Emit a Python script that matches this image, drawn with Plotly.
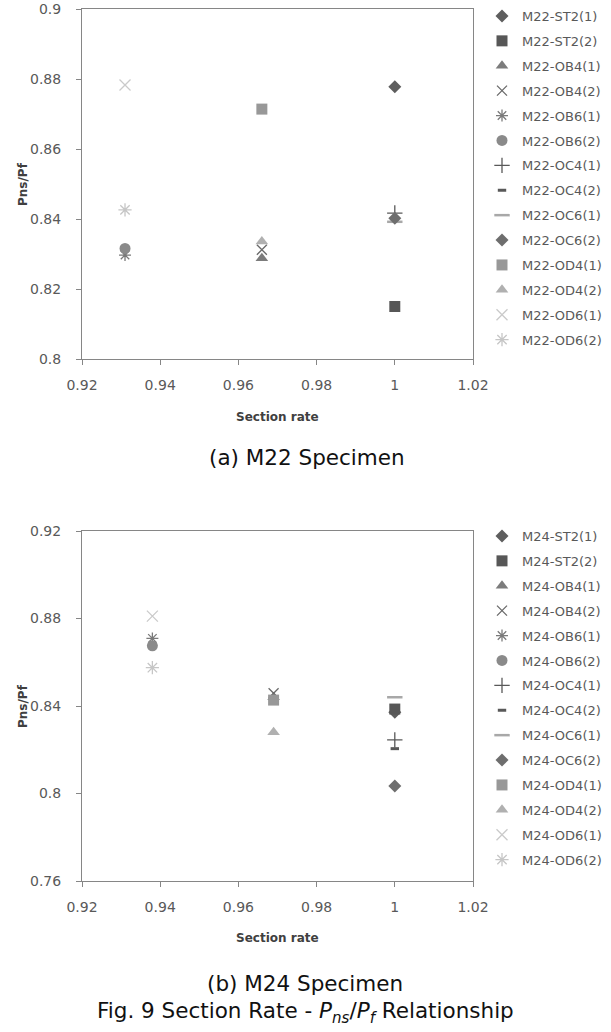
import plotly.graph_objects as go

W, H = 611, 1032

# ---------------- data ----------------
series_ids = ["ST2(1)", "ST2(2)", "OB4(1)", "OB4(2)", "OB6(1)", "OB6(2)", "OC4(1)",
              "OC4(2)", "OC6(1)", "OC6(2)", "OD4(1)", "OD4(2)", "OD6(1)", "OD6(2)"]

m22_x = [1.0, 1.0, 0.966, 0.966, 0.931, 0.931, 1.0, 1.0, 1.0, 1.0, 0.966, 0.966, 0.931, 0.931]
m22_y = [0.8778, 0.8150, 0.8288, 0.8312, 0.8297, 0.8316, 0.8417, 0.8400, 0.8392, 0.8402,
         0.8714, 0.8336, 0.8783, 0.8426]

m24_x = [1.0, 1.0, 0.969, 0.969, 0.938, 0.938, 1.0, 1.0, 1.0, 1.0, 0.969, 0.969, 0.938, 0.938]
m24_y = [0.8372, 0.8386, 0.8440, 0.8458, 0.8709, 0.8675, 0.8245, 0.8205, 0.8440, 0.8034,
         0.8427, 0.8280, 0.8811, 0.8575]

x_ticks = [0.92, 0.94, 0.96, 0.98, 1.0, 1.02]
m22_y_ticks = [0.8, 0.82, 0.84, 0.86, 0.88, 0.9]
m24_y_ticks = [0.76, 0.8, 0.84, 0.88, 0.92]

# ---------------- styles ----------------
symbols = ["diamond", "square", "triangle-up", "x-thin-open", "asterisk-open", "circle",
           "cross-thin-open", "line-ew-open", "line-ew-open", "diamond", "square",
           "triangle-up", "x-thin-open", "asterisk-open"]
sizes = [10, 11, 11, 10, 10, 11, 11, 6, 11, 10, 11, 11, 11, 11]
colors = ["#5e5e5e", "#575757", "#7c7c7c", "#6a6a6a", "#7a7a7a", "#8a8a8a", "#595959",
          "#595959", "#a8a8a8", "#6e6e6e", "#989898", "#b0b0b0", "#cacaca", "#c6c6c6"]
line_w = [0, 0, 0, 1.3, 1.3, 0, 1.3, 3, 2.5, 0, 0, 0, 1.3, 1.3]

fig = go.Figure()


def add_set(prefix, xs, ys, xa, ya, legend):
    for i, sid in enumerate(series_ids):
        mk = dict(symbol=symbols[i], size=sizes[i], color=colors[i])
        if line_w[i] > 0:
            mk["line"] = dict(width=line_w[i], color=colors[i])
        fig.add_trace(go.Scatter(
            x=[xs[i]], y=[ys[i]], mode="markers", name=f"{prefix}-{sid}",
            marker=mk, xaxis=xa, yaxis=ya, legend=legend,
            legendgroup=f"{prefix}{i}"))


add_set("M22", m22_x, m22_y, "x", "y", "legend")
add_set("M24", m24_x, m24_y, "x2", "y2", "legend2")


def px_x(p):
    return p / W


def px_y(p):
    return 1 - p / H


grey = "#868686"
tick_font = dict(family="DejaVu Sans", size=14, color="#595959")
ax_common = dict(showgrid=False, zeroline=False, showline=True, linecolor=grey, linewidth=1,
                 mirror=True, ticks="outside", ticklen=5, tickcolor=grey, tickfont=tick_font,
                 automargin=False, ticklabeloverflow="allow")

left, right = 82, 473
fig.update_layout(
    width=W, height=H, margin=dict(l=0, r=0, t=0, b=0, autoexpand=False),
    paper_bgcolor="white", plot_bgcolor="white", showlegend=True,
    xaxis=dict(domain=[px_x(left), px_x(right)], range=[0.92, 1.02], tickvals=x_ticks,
               anchor="y", ticklabelstandoff=8, **ax_common),
    yaxis=dict(domain=[px_y(359), px_y(9)], range=[0.8, 0.9], tickvals=m22_y_ticks,
               anchor="x", ticklabelstandoff=12, **ax_common),
    xaxis2=dict(domain=[px_x(left), px_x(right)], range=[0.92, 1.02], tickvals=x_ticks,
                anchor="y2", ticklabelstandoff=8, **ax_common),
    yaxis2=dict(domain=[px_y(881), px_y(531)], range=[0.76, 0.92], tickvals=m24_y_ticks,
                anchor="x2", ticklabelstandoff=12, **ax_common),
)

leg_common = dict(xanchor="left", yanchor="top", bgcolor="rgba(0,0,0,0)",
                  font=dict(family="DejaVu Sans", size=13, color="#595959"),
                  traceorder="grouped", tracegroupgap=5, itemsizing="trace", itemwidth=30)
fig.update_layout(
    legend=dict(x=px_x(482), y=px_y(1), **leg_common),
    legend2=dict(x=px_x(482), y=px_y(521), **leg_common),
)

title_font = dict(family="DejaVu Sans", size=12, color="#404040")
ann = []
# axis titles
ann.append(dict(text="<b>Section rate</b>", x=px_x(277), y=px_y(417), xref="paper", yref="paper",
                showarrow=False, font=title_font, xanchor="center", yanchor="middle"))
ann.append(dict(text="<b>Pns/Pf</b>", x=px_x(23), y=px_y(184), xref="paper", yref="paper",
                showarrow=False, font=title_font, textangle=-90, xanchor="center", yanchor="middle"))
ann.append(dict(text="<b>Section rate</b>", x=px_x(277), y=px_y(938), xref="paper", yref="paper",
                showarrow=False, font=title_font, xanchor="center", yanchor="middle"))
ann.append(dict(text="<b>Pns/Pf</b>", x=px_x(23), y=px_y(706), xref="paper", yref="paper",
                showarrow=False, font=title_font, textangle=-90, xanchor="center", yanchor="middle"))
# captions
cap_font = dict(family="DejaVu Sans", size=21.5, color="#111111")
ann.append(dict(text="(a) M22 Specimen", x=px_x(307), y=px_y(457), xref="paper", yref="paper",
                showarrow=False, font=cap_font, xanchor="center", yanchor="middle"))
ann.append(dict(text="(b) M24 Specimen", x=px_x(305), y=px_y(983), xref="paper", yref="paper",
                showarrow=False, font=cap_font, xanchor="center", yanchor="middle"))
ann.append(dict(text="Fig. 9 Section Rate - <i>P</i><sub><i>ns</i></sub>/<i>P</i><sub><i>f</i></sub> Relationship",
                x=px_x(305), y=px_y(1012), xref="paper", yref="paper",
                showarrow=False, font=cap_font, xanchor="center", yanchor="middle"))
fig.update_layout(annotations=ann)

# remove the page's default 8px body margin so the figure fills the window exactly
fig.write_html("out.html", config={"displayModeBar": False},
               post_script="document.body.style.margin='0';")
